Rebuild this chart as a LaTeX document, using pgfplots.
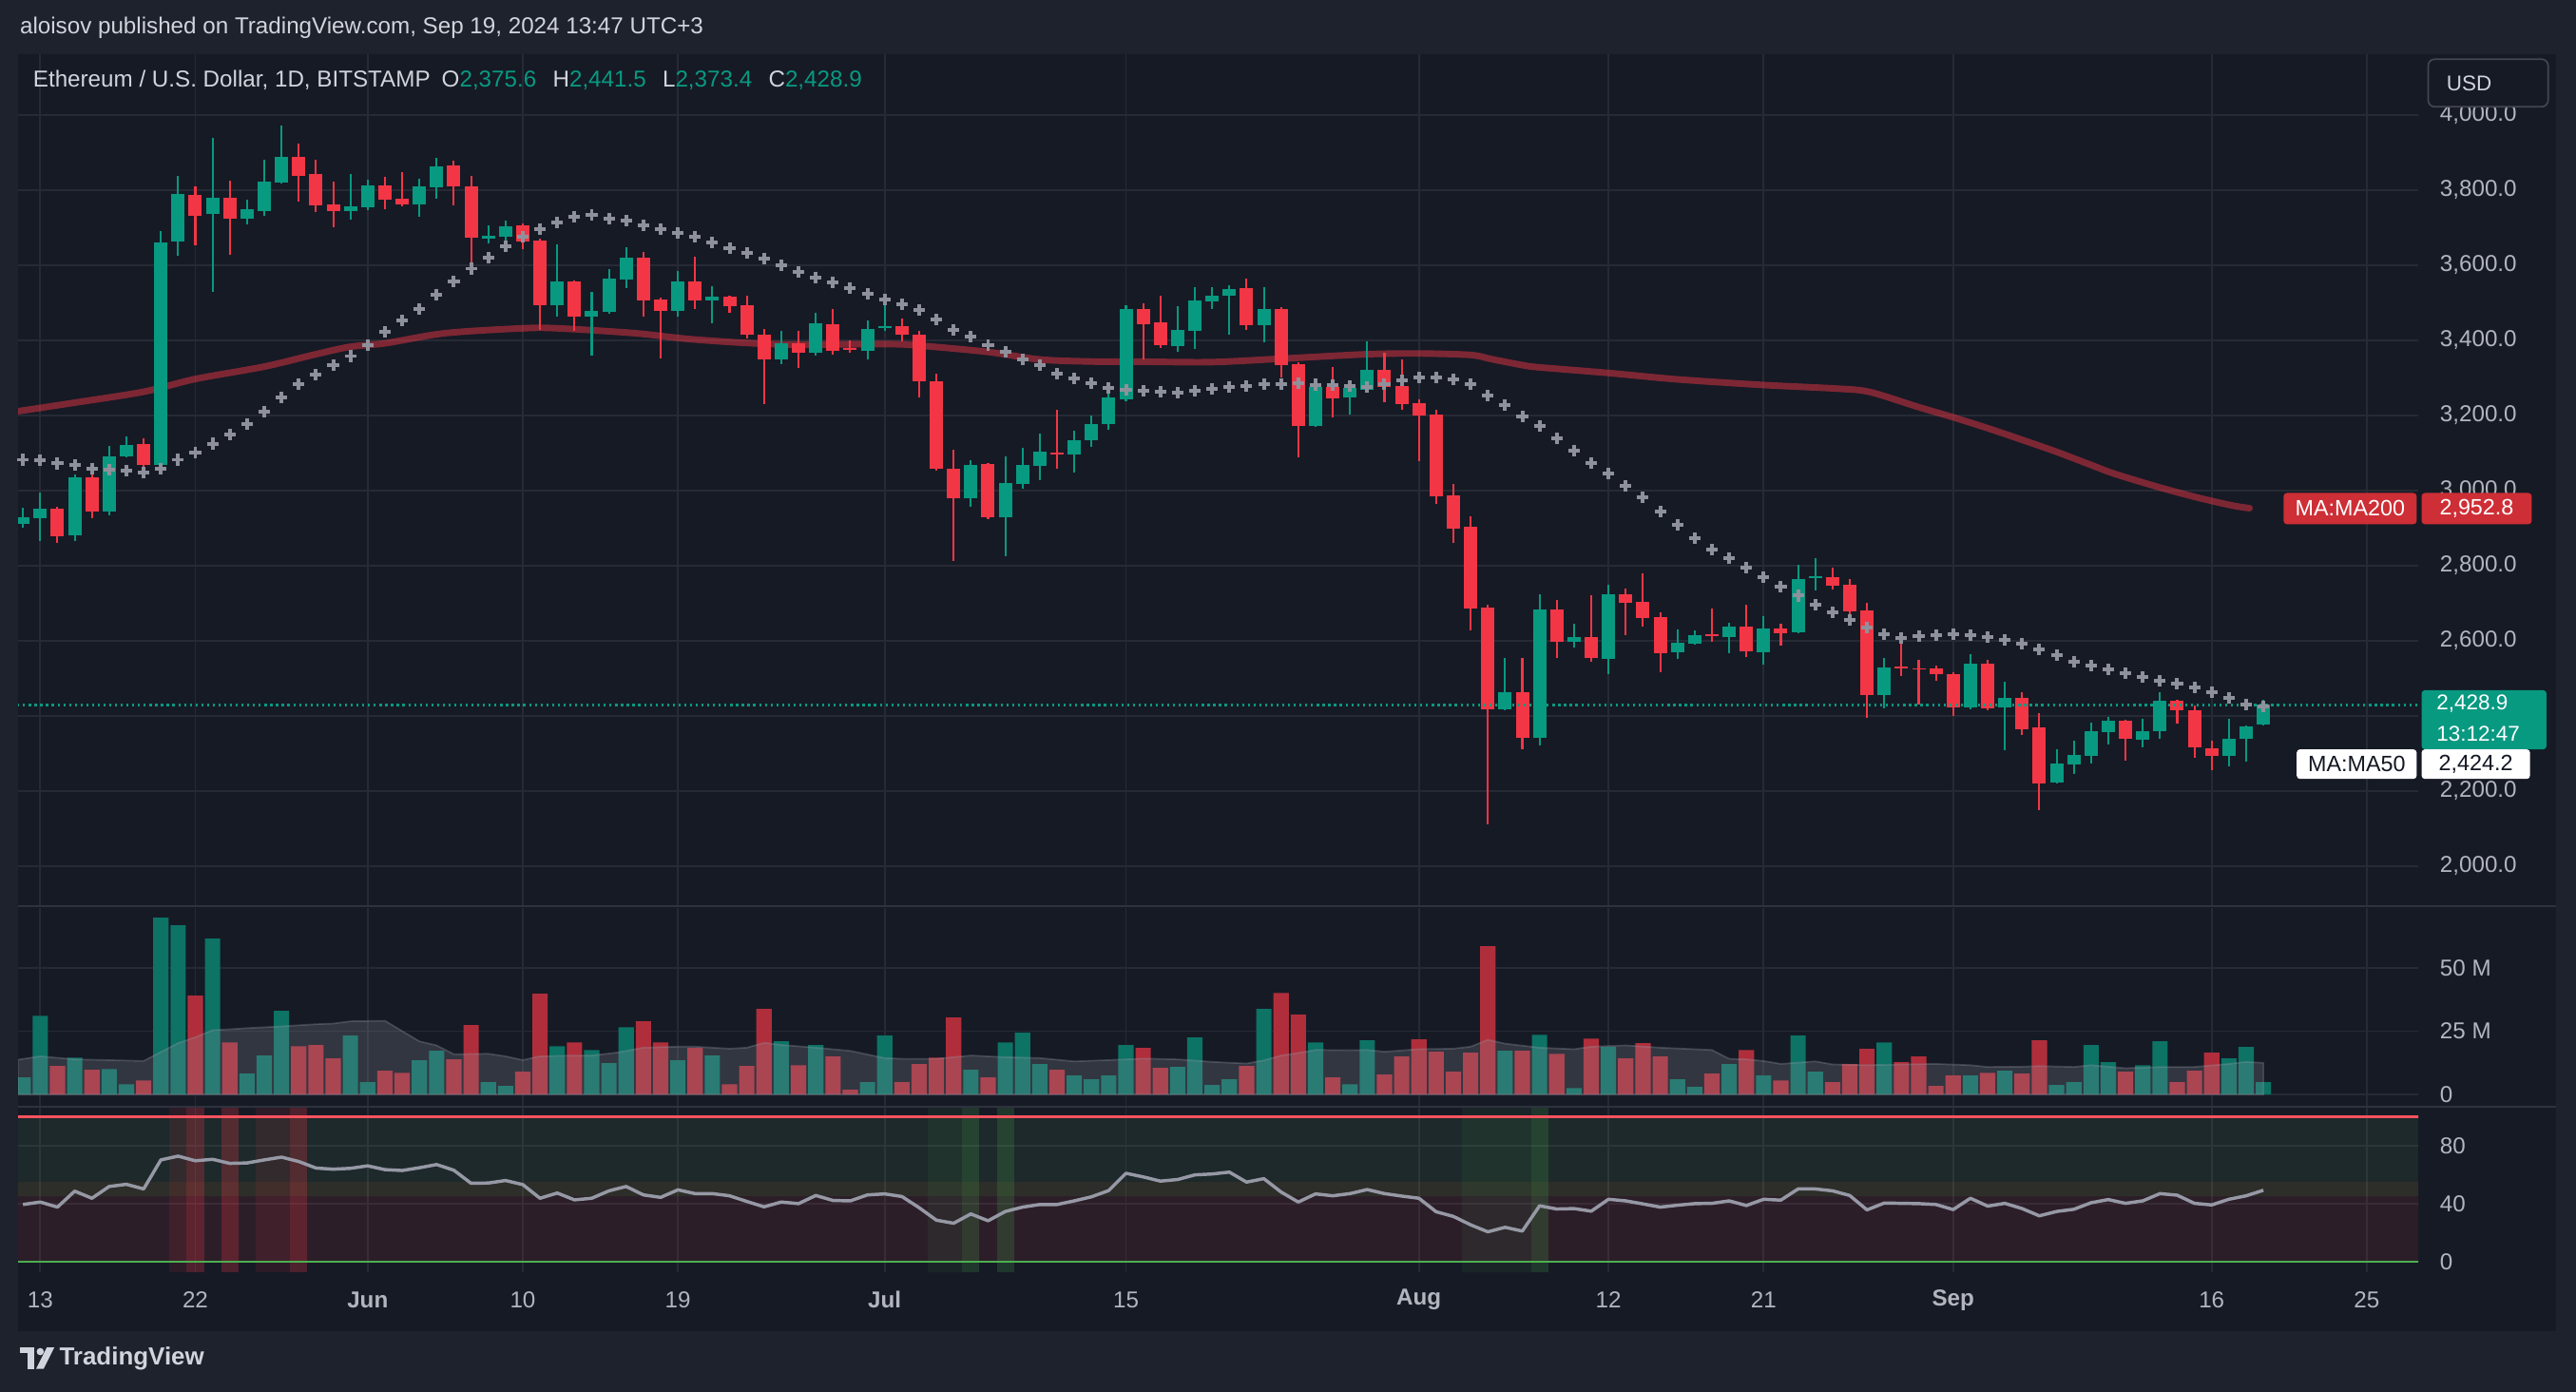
\documentclass[border=0pt]{standalone}
\usepackage{pgfplots}
\pgfplotsset{compat=1.18}
\usepackage{pgfplotstable}
\usepackage{fontspec}
\setmainfont{Liberation Sans}

\definecolor{bgc}{RGB}{22,26,37}
\definecolor{outer}{RGB}{30,34,45}
\definecolor{gridc}{RGB}{38,42,53}
\definecolor{sepc}{RGB}{46,50,62}
\definecolor{txt}{RGB}{209,212,220}
\definecolor{axtxt}{RGB}{178,181,190}
\definecolor{upc}{RGB}{8,153,129}
\definecolor{dnc}{RGB}{242,54,69}
\definecolor{vup}{RGB}{12,115,101}
\definecolor{vdn}{RGB}{176,46,59}
\definecolor{ma50c}{RGB}{142,145,155}
\definecolor{rsic}{RGB}{150,153,165}
\definecolor{vmaf}{RGB}{150,154,166}
\definecolor{bandg}{RGB}{92,176,97}
\definecolor{bando}{RGB}{190,170,70}
\definecolor{bandr}{RGB}{242,66,80}
\definecolor{rline}{RGB}{247,82,95}
\definecolor{gline}{RGB}{76,175,80}
\definecolor{lblred}{RGB}{206,46,53}
\definecolor{lbltxt}{RGB}{19,23,34}
\definecolor{usdb}{RGB}{67,70,81}

\pgfplotstableread{
d O H L C V M R
0 2910 2953 2901 2928 6.75 3082 39.4
1 2926 2994 2866 2951 31.1 3080 41.1
2 2951 2957 2861 2878 11.25 3072 37.6
3 2881 3042 2866 3034 14.6 3068 48.6
4 3034 3042 2926 2944 9.75 3059 43.7
5 2944 3120 2933 3092 10.1 3055 51.8
6 3091 3145 3088 3122 4.1 3052 53.3
7 3125 3138 3057 3068 5.6 3047 50.1
8 3068 3691 3051 3661 69.75 3057 70.1
9 3663 3838 3625 3790 66.75 3082 72.7
10 3787 3810 3653 3731 39 3102 69.5
11 3736 3938 3529 3779 61.5 3125 70.5
12 3779 3825 3628 3724 20.6 3148 67.7
13 3724 3774 3709 3749 8.25 3176 68
14 3744 3880 3731 3822 15.4 3211 70.1
15 3820 3971 3818 3888 33 3249 72
16 3888 3923 3769 3838 19.1 3283 69
17 3842 3880 3741 3759 19.5 3308 64.5
18 3762 3822 3701 3744 14.25 3333 63.7
19 3744 3842 3721 3757 23.25 3358 64.3
20 3754 3827 3746 3812 4.9 3388 66
21 3812 3835 3749 3774 9.4 3422 63.4
22 3777 3848 3757 3762 8.6 3454 62.8
23 3762 3830 3729 3810 13.5 3484 64.7
24 3807 3885 3777 3863 17.25 3522 66.9
25 3865 3878 3759 3810 13.9 3557 63
26 3810 3838 3585 3673 27.4 3591 54
27 3672 3706 3658 3678 4.9 3620 54.2
28 3676 3719 3666 3704 3.4 3651 55.9
29 3706 3711 3643 3663 9 3676 53.1
30 3666 3671 3428 3494 39.75 3696 43.7
31 3494 3656 3464 3557 19.1 3714 47.3
32 3557 3560 3426 3464 20.6 3729 42.6
33 3464 3529 3360 3479 17.6 3734 43.7
34 3476 3590 3471 3565 12.4 3724 48.8
35 3562 3648 3539 3620 26.6 3719 51.8
36 3620 3635 3464 3507 28.9 3706 46
37 3509 3514 3352 3479 20.6 3696 44.3
38 3479 3585 3464 3557 13.5 3686 49.5
39 3557 3623 3484 3507 18.4 3676 46.9
40 3507 3544 3446 3517 15.4 3661 46.9
41 3517 3519 3474 3491 4.1 3646 45.4
42 3494 3519 3406 3416 11.25 3633 41.5
43 3416 3431 3231 3348 33.75 3618 37.8
44 3348 3426 3336 3393 21 3600 41.1
45 3393 3424 3326 3366 11.6 3583 40
46 3366 3474 3359 3446 19.5 3568 45.6
47 3444 3484 3361 3371 15 3554 42.2
48 3378 3401 3366 3375 1.9 3540 41.9
49 3371 3454 3349 3431 4.9 3523 46
50 3432 3517 3424 3437 23.25 3508 46.7
51 3439 3459 3398 3414 4.9 3495 44.9
52 3416 3426 3249 3290 12 3480 37.2
53 3292 3310 3052 3057 14.6 3455 28.6
54 3057 3108 2813 2979 30.4 3427 26.5
55 2979 3082 2956 3067 9.75 3409 32.9
56 3070 3072 2923 2928 6.75 3387 28.2
57 2928 3092 2825 3019 20.6 3369 34.6
58 3017 3113 3004 3067 24.4 3350 37.6
59 3065 3151 3027 3103 12 3334 39.4
60 3102 3214 3057 3097 9.75 3312 39.4
61 3097 3158 3049 3133 7.5 3298 41.9
62 3133 3201 3115 3176 6 3285 44.7
63 3176 3269 3163 3247 7.5 3273 49
64 3244 3494 3237 3484 19.5 3268 60.9
65 3484 3499 3350 3442 18.4 3265 58.4
66 3447 3518 3380 3387 10.5 3263 55.5
67 3385 3490 3370 3427 10.9 3261 56.6
68 3425 3541 3377 3506 22.5 3266 59.8
69 3504 3541 3484 3518 3.75 3271 60.4
70 3519 3546 3415 3536 6 3276 61.7
71 3538 3564 3428 3441 11.25 3279 54.8
72 3441 3541 3395 3483 33.75 3284 57.2
73 3483 3488 3301 3334 40.1 3284 48
74 3336 3341 3089 3172 31.5 3285 41.1
75 3172 3285 3170 3275 20.6 3282 46.7
76 3275 3328 3195 3246 6.75 3280 45.4
77 3248 3283 3203 3273 4.1 3278 46.9
78 3268 3397 3260 3321 21.4 3276 49.7
79 3321 3366 3235 3276 7.9 3283 46.9
80 3278 3349 3215 3230 15 3293 45.2
81 3232 3242 3079 3200 21.75 3300 43.7
82 3202 3214 2965 2985 16.9 3301 34.4
83 2987 3017 2861 2899 9 3296 31.2
84 2903 2931 2627 2686 16.5 3284 25.4
85 2688 2695 2111 2417 58.5 3253 20.6
86 2417 2554 2415 2462 17.25 3228 23.7
87 2462 2554 2311 2342 17.25 3198 21.1
88 2342 2723 2322 2683 23.6 3172 38.5
89 2683 2708 2554 2597 16.1 3139 36.3
90 2597 2645 2582 2609 2.6 3106 36.6
91 2609 2721 2544 2554 22.1 3073 34.8
92 2552 2749 2511 2723 18.75 3046 43
93 2723 2738 2615 2700 14.25 3013 41.9
94 2703 2779 2638 2661 20.25 2982 39.8
95 2662 2675 2516 2567 15 2944 37.6
96 2570 2630 2552 2594 6 2909 38.9
97 2592 2627 2590 2614 3 2873 40
98 2618 2685 2597 2613 8.25 2843 40.2
99 2610 2647 2567 2637 12 2820 41.9
100 2637 2695 2557 2572 17.6 2795 38.7
101 2570 2665 2537 2632 7.5 2770 43
102 2632 2645 2587 2620 5.6 2744 42.4
103 2623 2802 2620 2764 23.25 2720 50.1
104 2766 2819 2733 2771 9 2696 50.1
105 2769 2794 2736 2746 4.9 2676 48.8
106 2748 2764 2667 2678 12 2656 45.6
107 2680 2700 2395 2456 18 2636 35.7
108 2456 2554 2420 2529 20.6 2618 40.4
109 2532 2597 2506 2527 12.75 2608 40.2
110 2527 2550 2430 2523 15 2612 40
111 2525 2533 2493 2511 3.4 2614 39.4
112 2512 2515 2399 2422 7.5 2617 35.9
113 2422 2563 2418 2538 7.5 2614 43.7
114 2538 2550 2414 2419 8.6 2609 38.3
115 2422 2490 2308 2449 9.4 2602 40.2
116 2449 2464 2349 2364 8.25 2592 36.6
117 2368 2406 2149 2219 21.4 2576 31.6
118 2222 2310 2221 2272 3.75 2561 34.6
119 2270 2333 2245 2295 4.9 2544 36.1
120 2293 2381 2273 2358 19.5 2533 40.6
121 2356 2396 2323 2388 12.75 2523 42.8
122 2388 2390 2280 2338 9 2513 40.2
123 2336 2391 2316 2360 11.6 2503 41.9
124 2359 2464 2338 2441 21 2493 46.9
125 2441 2443 2379 2414 4.9 2485 45.8
126 2416 2427 2288 2316 9.4 2475 40.2
127 2313 2333 2255 2293 16.5 2463 39.1
128 2293 2393 2265 2340 14.25 2447 43
129 2338 2375 2278 2373 18.75 2430 45.4
130 2375.6 2441.5 2373.4 2428.9 4.9 2424.2 49.2
}\data

\pgfplotstableread{
d v
-0.3 3211
3 3234
7 3263
10 3297
14 3330
17 3363
19 3383
21 3392
24.5 3419
29 3432
31 3432
35.5 3419
39 3402
44 3389
50 3390
52 3386
56 3369
59 3349
62 3343.5
65 3343
69 3342
73 3351
78 3363
81 3365
84 3361
85.2 3350
87 3334
88 3328
92 3313
96 3296
101 3281
105.4 3271
107.2 3262
110 3222
112 3195
114 3166
116 3135
118 3103
120 3068
121.4 3044
124 3008
126.2 2981
128.2 2960
129.2 2953
}\mab

\pgfplotstableread{
d v
-0.3 13.75
1 15.1
3 13.9
5 13.6
7 13.25
8 16.8
9 20.3
10 22.6
11 25.4
12 25.75
13 26.2
15 26.9
17 27.75
18 28
19 28.9
21 29.1
23 21
24 19.4
25 15.9
27 16.1
28 15.1
29 13.6
30 15.1
32 15.4
33 15.4
34.5 16.6
36 18.5
38 18.9
39 18.9
41 18.1
42 18.5
43 20.4
44 19.6
46 18.5
48 17.25
50 14.4
51 14.1
53 14.1
55 15.4
57 14.75
59 14.4
61 13.1
63 13.6
65 14.2
67 13.9
69 12.9
71 12.25
72 13.5
73 15.4
74 16.4
75 17.6
77 17.5
78 17.6
79 16.9
81 17.9
83 18.1
84 18.9
85 21.6
86 20.1
88 18.5
90 17.9
91 18.9
93 19.4
95 18.5
97 17.9
98 17.6
99 14.1
100 13.9
101 13.25
102 12.1
104 13.1
105 11.9
107 11.6
109 11.9
111 12.1
113 11.6
114 10.9
116 11
117 11.25
119 10.9
120 11.6
122 10.4
124 10.9
126 10.9
128 12.1
129 12.9
130 12.5
}\vma

\newcommand\tl{\fontsize{14}{16}\selectfont}

\pgfplotsset{
  pane/.style={
    scale only axis, width=1461pt, xmin=-0.286, xmax=138.99,
    anchor=south west,
    axis line style={draw=none}, major tick length=0pt, tick style={draw=none},
    xtick={1,10,20,29,38,50,64,81,92,101,112,127,136},
    xticklabels={},
    grid=major, major grid style={draw=gridc, line width=1pt},
    yticklabel pos=right,
    yticklabel style={anchor=west, inner sep=0pt, xshift=13pt, font=\tl, text=axtxt},
  },
  candle/.style={only marks, no markers, mark size=0pt, error bars/y dir=both, error bars/y explicit, error bars/error mark=none},
}

\begin{document}
\begin{tikzpicture}
\fill[outer] (0pt,0pt) rectangle (1568pt,847pt);
\fill[bgc] (11pt,37pt) rectangle (1556pt,814pt);

% ---------------- price pane
\begin{axis}[pane, at={(11pt,295.5pt)}, height=518.5pt, ymin=1892.8, ymax=4161.9,
  ytick={2000,2200,...,4000},
  yticklabels={{2,000.0},{2,200.0},{},{2,600.0},{2,800.0},{3,000.0},{3,200.0},{3,400.0},{3,600.0},{3,800.0},{4,000.0}}]
\addplot[only marks, mark=+, mark size=3.5pt, mark options={line width=2.3pt, draw=ma50c}] table[x=d,y=M]{\data};
\addplot[smooth, tension=0.5, line width=4pt, draw=dnc, draw opacity=0.47, line cap=round] table[x=d,y=v]{\mab};
% wicks
\addplot[restrict expr to domain={\thisrow{C}-\thisrow{O}}{0:100000}, candle, error bars/error bar style={line width=1.2pt, draw=upc}]
  table[x=d, y expr={(\thisrow{H}+\thisrow{L})/2}, y error expr={(\thisrow{H}-\thisrow{L})/2}]{\data};
\addplot[restrict expr to domain={\thisrow{C}-\thisrow{O}}{-100000:-0.001}, candle, error bars/error bar style={line width=1.2pt, draw=dnc}]
  table[x=d, y expr={(\thisrow{H}+\thisrow{L})/2}, y error expr={(\thisrow{H}-\thisrow{L})/2}]{\data};
% bodies
\addplot[restrict expr to domain={\thisrow{C}-\thisrow{O}}{0:100000}, candle, error bars/error bar style={line width=8.1pt, draw=upc}]
  table[x=d, y expr={(\thisrow{O}+\thisrow{C})/2}, y error expr={max(abs(\thisrow{C}-\thisrow{O})/2,2.2)}]{\data};
\addplot[restrict expr to domain={\thisrow{C}-\thisrow{O}}{-100000:-0.001}, candle, error bars/error bar style={line width=8.1pt, draw=dnc}]
  table[x=d, y expr={(\thisrow{O}+\thisrow{C})/2}, y error expr={max(abs(\thisrow{C}-\thisrow{O})/2,2.2)}]{\data};
% current price line
\addplot[draw=upc, line width=1.3pt, dash pattern=on 1.3pt off 2.2pt] coordinates {(-1,2428.9) (140,2428.9)};
\end{axis}

% ---------------- volume pane
\begin{axis}[pane, at={(11pt,174pt)}, height=120.5pt, ymin=-4.47, ymax=73.6,
  ytick={0,25,50}, yticklabels={0,25 M,50 M}]
\addplot[ybar, bar width=0.89, bar shift=0pt, fill=vup, draw=none, restrict expr to domain={\thisrow{C}-\thisrow{O}}{0:100000}] table[x=d,y=V]{\data};
\addplot[ybar, bar width=0.89, bar shift=0pt, fill=vdn, draw=none, restrict expr to domain={\thisrow{C}-\thisrow{O}}{-100000:-0.001}] table[x=d,y=V]{\data};
\addplot[fill=vmaf, fill opacity=0.22, draw=vmaf, draw opacity=0.3, line width=1pt] table[x=d,y=v]{\vma} \closedcycle;
\end{axis}

% ---------------- RSI pane
\begin{axis}[pane, at={(11pt,73pt)}, height=100pt, ymin=-7.01, ymax=106.1,
  ytick={0,40,80}, yticklabels={0,40,80},
  xticklabels={13,22,\textbf{Jun},10,19,\textbf{Jul},15,\textbf{Aug},12,21,\textbf{Sep},16,25},
  xticklabel style={anchor=center, yshift=-17pt, font=\tl, text=axtxt, inner sep=0pt}]
\fill[bandg, opacity=0.1] (axis cs:-1,55) rectangle (axis cs:140,100);
\fill[bando, opacity=0.14] (axis cs:-1,45) rectangle (axis cs:140,55);
\fill[bandr, opacity=0.1] (axis cs:-1,0) rectangle (axis cs:140,45);
\addplot[candle, error bars/error bar style={line width=10.49pt, draw=dnc, opacity=0.1}]
  coordinates {(9,50) +- (0,60) (14,50) +- (0,60) (15,50) +- (0,60)};
\addplot[candle, error bars/error bar style={line width=10.49pt, draw=dnc, opacity=0.25}]
  coordinates {(10,50) +- (0,60) (12,50) +- (0,60) (16,50) +- (0,60)};
\addplot[candle, error bars/error bar style={line width=10.49pt, draw=gline, opacity=0.08}]
  coordinates {(53,50) +- (0,60) (54,50) +- (0,60) (84,50) +- (0,60) (85,50) +- (0,60) (86,50) +- (0,60) (87,50) +- (0,60)};
\addplot[candle, error bars/error bar style={line width=10.49pt, draw=gline, opacity=0.2}]
  coordinates {(55,50) +- (0,60) (57,50) +- (0,60) (88,50) +- (0,60)};
\addplot[draw=rline, line width=1.5pt] coordinates {(-1,100) (140,100)};
\addplot[draw=gline, line width=1.5pt] coordinates {(-1,0) (140,0)};
\addplot[draw=rsic, line width=2pt, line join=round] table[x=d,y=R]{\data};
\end{axis}

% pane separators
\draw[sepc, line width=1.5pt] (11pt,295.5pt) -- (1556pt,295.5pt);
\draw[sepc, line width=1.5pt] (11pt,173.5pt) -- (1556pt,173.5pt);

% header
\node[anchor=west, text=txt, font=\fontsize{14}{16}\selectfont, inner sep=0pt] at (12pt,830pt)
  {aloisov published on TradingView.com, Sep 19, 2024 13:47 UTC+3};
\node[anchor=west, text=txt, font=\fontsize{14}{16}\selectfont, inner sep=0pt] at (20pt,798pt)
  {Ethereum / U.S. Dollar, 1D, BITSTAMP\hspace{7pt}O\textcolor{upc}{2,375.6}\hspace{10pt}H\textcolor{upc}{2,441.5}\hspace{10pt}L\textcolor{upc}{2,373.4}\hspace{10pt}C\textcolor{upc}{2,428.9}};

% USD button
\draw[usdb, fill=bgc, rounded corners=4pt, line width=1pt] (1478pt,782pt) rectangle (1551pt,811pt);
\node[anchor=west, text=txt, font=\fontsize{13}{15}\selectfont, inner sep=0pt] at (1489pt,796.5pt) {USD};

% right-side labels
\fill[lblred, rounded corners=2pt] (1390pt,528pt) rectangle (1471pt,547pt);
\node[text=white, font=\fontsize{13.5}{15}\selectfont, inner sep=0pt] at (1430.5pt,537.5pt) {MA:MA200};
\fill[lblred, rounded corners=2pt] (1474pt,528pt) rectangle (1541pt,547pt);
\node[text=white, font=\fontsize{13.5}{15}\selectfont, inner sep=0pt] at (1507.5pt,537.5pt) {2,952.8};

\fill[upc, rounded corners=2pt] (1474pt,391pt) rectangle (1550pt,427pt);
\node[anchor=west, text=white, font=\fontsize{13}{14}\selectfont, inner sep=0pt] at (1483pt,418.5pt) {2,428.9};
\node[anchor=west, text=white, font=\fontsize{13}{14}\selectfont, inner sep=0pt] at (1483pt,400.5pt) {13:12:47};

\fill[white, rounded corners=2pt] (1398pt,373pt) rectangle (1471pt,391pt);
\node[text=lbltxt, font=\fontsize{13.5}{15}\selectfont, inner sep=0pt] at (1434.5pt,382pt) {MA:MA50};
\fill[white, rounded corners=2pt] (1474pt,373pt) rectangle (1540pt,391pt);
\node[text=lbltxt, font=\fontsize{13.5}{15}\selectfont, inner sep=0pt] at (1507pt,382pt) {2,424.2};

% footer logo
\fill[txt] (12pt,23.5pt) rectangle (21pt,27pt);
\fill[txt] (17pt,14pt) rectangle (21pt,27pt);
\fill[txt] (24.5pt,24.5pt) circle (2.2pt);
\fill[txt] (22pt,14pt) -- (26.5pt,14pt) -- (33pt,27pt) -- (28.5pt,27pt) -- cycle;
\node[anchor=west, text=txt, font=\fontsize{15}{17}\selectfont\bfseries, inner sep=0pt] at (36pt,20pt) {TradingView};

\pgfresetboundingbox
\useasboundingbox (0pt,0pt) rectangle (1568pt,847pt);
\end{tikzpicture}
\end{document}
